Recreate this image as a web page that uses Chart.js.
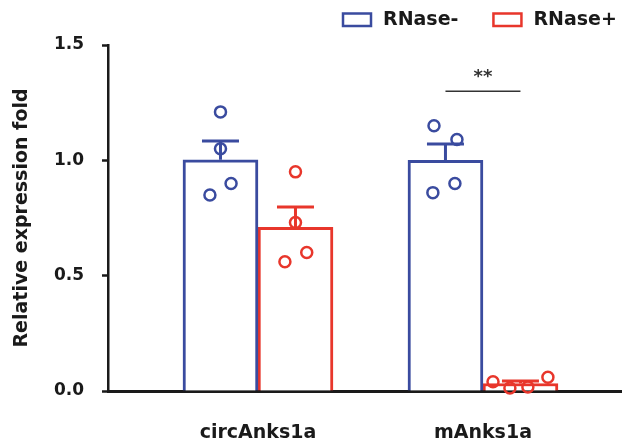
<!DOCTYPE html>
<html>
<head>
<meta charset="utf-8">
<script src="https://cdn.jsdelivr.net/npm/chart.js@4.4.1/dist/chart.umd.min.js"></script>
<style>
  html, body { margin: 0; padding: 0; background: #fff; overflow: hidden; }
  #wrap { width: 622px; height: 445px; }
</style>
</head>
<body>
<div id="wrap"><canvas id="chart"></canvas></div>
<script>
// categories and series
const groups = ["circAnks1a", "mAnks1a"];
const series = ["RNase-", "RNase+"];
const colors = ["#3a4b9f", "#e8362b"];

// replicates (relative expression fold), one row per category
const rnaseMinus = [
  [1.21, 1.05, 0.90, 0.85],
  [1.15, 1.09, 0.90, 0.86]
];
const rnasePlus = [
  [0.95, 0.73, 0.60, 0.56],
  [0.04, 0.013, 0.017, 0.06]
];
// horizontal scatter of the dots inside each bar, category units
const jitter = [
  [[0, 0, 0.047, -0.047], [0, 0, 0.05, -0.047]],
  [[-0.051, 0.051, 0.042, -0.056], [-0.122, -0.047, 0.033, 0.122]]
];
const yTicks = [0, 0.5, 1.0, 1.5];
const sigText = "**";

const FONT = "'DejaVu Sans', sans-serif";
const INK = "#1a1a1a";
const reps = [rnaseMinus, rnasePlus];
const half = 1 / 6; // half a bar, in category units

function mean(a) { return a.reduce((s, v) => s + v, 0) / a.length; }
function sem(a) {
  const m = mean(a);
  const sd = Math.sqrt(a.reduce((s, v) => s + (v - m) * (v - m), 0) / (a.length - 1));
  return sd / Math.sqrt(a.length);
}

const bars = series.map((name, s) => ({
  type: 'bar',
  label: name,
  data: groups.map((g, i) => ({ x: i + 1, y: mean(reps[s][i]) })),
  backgroundColor: '#ffffff',
  borderColor: colors[s],
  borderWidth: 3,
  borderSkipped: 'bottom',
  barThickness: 75,
  order: 3
}));

const dots = series.map((name, s) => ({
  type: 'scatter',
  label: name + ' points',
  data: groups.flatMap((g, i) => reps[s][i].map((v, k) => ({
    x: i + 1 + (s ? half : -half) + jitter[i][s][k],
    y: v
  }))),
  pointRadius: 5.5,
  pointBorderWidth: 2.5,
  pointBackgroundColor: 'rgba(255,255,255,0)',
  pointBorderColor: colors[s],
  showLine: false,
  clip: false,
  order: 1
}));

// SEM whiskers on top of each bar
const errorBars = {
  id: 'errorBars',
  afterDatasetsDraw(chart) {
    const ctx = chart.ctx, y = chart.scales.y;
    series.forEach((name, s) => {
      const meta = chart.getDatasetMeta(s);
      meta.data.forEach((el, i) => {
        const vals = reps[s][i];
        const top = y.getPixelForValue(mean(vals) + sem(vals));
        ctx.save();
        ctx.strokeStyle = colors[s];
        ctx.lineWidth = 3;
        ctx.beginPath();
        ctx.moveTo(el.x, el.y);
        ctx.lineTo(el.x, top);
        ctx.moveTo(el.x - 18.5, top);
        ctx.lineTo(el.x + 18.5, top);
        ctx.stroke();
        ctx.restore();
      });
    });
  }
};

// significance mark over mAnks1a
const significance = {
  id: 'significance',
  afterDraw(chart) {
    const ctx = chart.ctx, x = chart.scales.x, y = chart.scales.y;
    const x1 = x.getPixelForValue(2 - half), x2 = x.getPixelForValue(2 + half);
    const yl = y.getPixelForValue(1.30);
    ctx.save();
    ctx.strokeStyle = '#333';
    ctx.lineWidth = 1.5;
    ctx.beginPath();
    ctx.moveTo(x1, yl);
    ctx.lineTo(x2, yl);
    ctx.stroke();
    ctx.fillStyle = '#333';
    ctx.font = "bold 18px " + FONT;
    ctx.textAlign = 'center';
    ctx.textBaseline = 'middle';
    ctx.fillText(sigText, (x1 + x2) / 2, y.getPixelForValue(1.36));
    ctx.restore();
  }
};

// legend: outlined boxes top right
const boxLegend = {
  id: 'boxLegend',
  afterDraw(chart) {
    const ctx = chart.ctx;
    ctx.save();
    ctx.font = "bold 19px " + FONT;
    ctx.textBaseline = 'middle';
    ctx.textAlign = 'left';
    let cx = 343;
    series.forEach((name, s) => {
      ctx.strokeStyle = colors[s];
      ctx.lineWidth = 2.5;
      ctx.strokeRect(cx, 13.5, 28, 12.5);
      ctx.fillStyle = INK;
      ctx.fillText(name, cx + 40, 20);
      cx += 40 + ctx.measureText(name).width + 35;
    });
    ctx.restore();
  }
};

new Chart(document.getElementById("chart"), {
  data: { datasets: [...bars, ...dots] },
  options: {
    responsive: true,
    maintainAspectRatio: false,
    animation: false,
    layout: { autoPadding: false, padding: { top: 45, left: 0, right: 0, bottom: 0 } },
    plugins: {
      legend: { display: false },
      tooltip: { enabled: false }
    },
    scales: {
      x: {
        type: 'linear',
        offset: false,
        min: 1 / 3,
        max: 2.618,
        afterBuildTicks: s => { s.ticks = groups.map((g, i) => ({ value: i + 1 })); },
        afterFit: s => { s.height = 54; },
        ticks: {
          callback: v => groups[Math.round(v) - 1],
          autoSkip: false,
          maxRotation: 0,
          padding: 23,
          color: INK,
          font: { family: FONT, size: 19, weight: 'bold' }
        },
        grid: { display: false, offset: false },
        border: { display: true, color: INK, width: 3 }
      },
      y: {
        min: 0,
        max: 1.5,
        afterBuildTicks: s => { s.ticks = yTicks.map(v => ({ value: v })); },
        afterFit: s => { s.width = 108; },
        ticks: {
          callback: v => v.toFixed(1),
          padding: 18,
          color: INK,
          font: { family: FONT, size: 17, weight: 'bold' }
        },
        grid: {
          display: true,
          drawOnChartArea: false,
          drawTicks: true,
          tickLength: 6,
          tickWidth: 2.5,
          tickColor: INK
        },
        border: { display: true, color: INK, width: 2.5 },
        title: {
          display: true,
          text: 'Relative expression fold',
          color: INK,
          font: { family: FONT, size: 19, weight: 'bold' },
          padding: { top: 11, bottom: 0 }
        }
      }
    }
  },
  plugins: [errorBars, significance, boxLegend]
});
</script>
</body>
</html>
